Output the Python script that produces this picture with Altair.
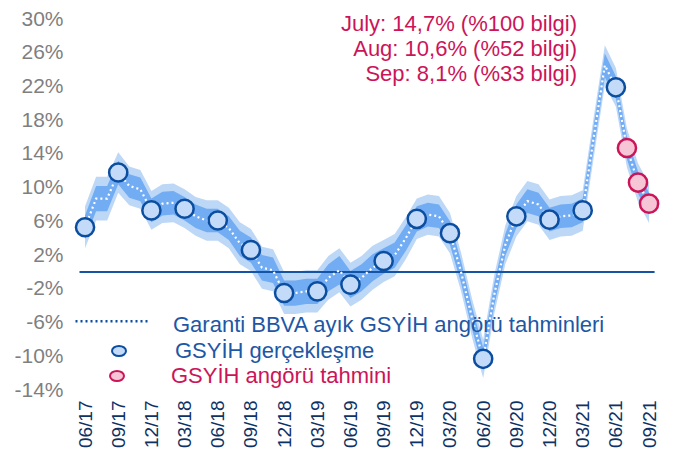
import altair as alt
import pandas as pd

# ---------------- data ----------------
tick_labels = ["06/17", "09/17", "12/17", "03/18", "06/18", "09/18", "12/18", "03/19",
               "06/19", "09/19", "12/19", "03/20", "06/20", "09/20", "12/20", "03/21",
               "06/21", "09/21"]

months = []
yy, mm = 2017, 6
while (yy, mm) <= (2021, 9):
    months.append(f"{mm:02d}/{yy % 100:02d}")
    mm += 1
    if mm > 12:
        mm, yy = 1, yy + 1

# monthly nowcast (Garanti BBVA), %
nowcast = [5.3, 8.7, 8.7, 11.8, 10.2, 9.8, 7.3, 8.1, 8.2, 7.5, 6.6, 6.1,
           6.1, 5.2, 3.4, 2.6, 0.5, 0.2, -2.5, -2.5, -2.3, -2.3, -0.7, 0.2,
           -1.5, -0.7, 0.5, 1.3, 2.0, 4.0, 6.3, 6.8, 6.6, 4.6, 0.0, -5.5,
           -10.3, -2.7, 3.2, 6.6, 8.4, 8.0, 6.2, 6.6, 6.7, 7.3, 16.0, 24.5,
           21.9, 14.7, 10.6, 8.1]

# half widths of the inner / outer uncertainty bands, %
inner_half = [1.4, 1.5, 1.5, 1.4, 1.4, 1.4, 1.4, 1.4, 1.4, 1.4, 1.4, 1.4,
              1.4, 1.4, 1.5, 1.5, 1.5, 1.5, 1.5, 1.5, 1.5, 1.5, 1.6, 1.7,
              1.6, 1.6, 1.6, 1.5, 1.5, 1.5, 1.5, 1.4, 1.4, 1.4, 1.3, 1.3,
              1.3, 1.3, 1.3, 1.4, 1.4, 1.4, 1.4, 1.4, 1.4, 1.4, 1.4, 1.4,
              1.3, 1.3, 1.3, 1.3]
outer_half = [2.5, 2.6, 2.6, 2.4, 2.3, 2.3, 2.3, 2.3, 2.3, 2.3, 2.3, 2.4,
              2.4, 2.4, 2.5, 2.5, 2.5, 2.5, 2.5, 2.5, 2.5, 2.5, 2.6, 2.6,
              2.6, 2.6, 2.6, 2.5, 2.5, 2.5, 2.4, 2.4, 2.4, 2.4, 2.3, 2.3,
              2.3, 2.3, 2.3, 2.4, 2.4, 2.4, 2.4, 2.4, 2.4, 2.4, 2.4, 2.4,
              2.3, 2.3, 2.3, 2.3]

# realised quarterly GDP growth, %
realized = [5.3, 11.8, 7.3, 7.5, 6.1, 2.6, -2.5, -2.3, -1.5, 1.3, 6.3, 4.6,
            -10.3, 6.6, 6.2, 7.3, 21.9]
forecast_months = ["07/21", "08/21", "09/21"]
forecast = [14.7, 10.6, 8.1]

annotation = ["July: 14,7% (%100 bilgi)", "Aug: 10,6% (%52 bilgi)", "Sep: 8,1% (%33 bilgi)"]
S1 = "Garanti BBVA ayık GSYİH angörü tahminleri"
S2 = "GSYİH gerçekleşme"
S3 = "GSYİH angörü tahmini"

# ---------------- styles ----------------
FONT = "Liberation Sans"
BLUE = "#0b4d9f"
LEG_BLUE = "#1d57a5"
PINK = "#cc1458"
BLUE_FILL = "#c3dbf8"
PINK_FILL = "#f6c6d6"
INNER = "#72acf3"
OUTER = "#bdd7f7"

# ---------------- frames ----------------
monthly = pd.DataFrame({
    "month": months,
    "idx": list(range(len(months))),
    "v": nowcast,
    "lo1": [a - b for a, b in zip(nowcast, inner_half)],
    "hi1": [a + b for a, b in zip(nowcast, inner_half)],
    "lo2": [a - b for a, b in zip(nowcast, outer_half)],
    "hi2": [a + b for a, b in zip(nowcast, outer_half)],
    "series": [S1] * len(months),
})

real_df = pd.DataFrame({
    "idx": [months.index(m) for m in tick_labels[:len(realized)]],
    "v": realized,
    "series": [S2] * len(realized),
})
fc_df = pd.DataFrame({
    "idx": [months.index(m) for m in forecast_months],
    "v": forecast,
    "series": [S3] * len(forecast),
})

zero_df = pd.DataFrame({"a": [-0.5], "b": [len(months) - 0.5], "v": [0]})

month_js = "[" + ",".join(f"'{m}'" for m in months) + "]"
x_axis = alt.Axis(values=[months.index(t) for t in tick_labels],
                  labelExpr=f"{month_js}[datum.value]", title=None,
                  labelAngle=-90, labelAlign="right", labelBaseline="middle",
                  labelPadding=10, labelFontSize=19, labelColor="#0e3264",
                  labelFont=FONT, ticks=False, domain=False, grid=False,
                  labelOverlap=False)
y_axis = alt.Axis(values=list(range(-14, 31, 4)), labelExpr="datum.value + '%'",
                  title=None, labelPadding=7, labelFontSize=21, labelColor="#7f7f7f",
                  labelFont=FONT, ticks=False, domain=False, grid=False)
xs = alt.Scale(domain=[-1.36, 52.17], nice=False, zero=False)
ys = alt.Scale(domain=[-14, 30], nice=False, zero=False)

X = alt.X("idx:Q", scale=xs, axis=x_axis)

outer = alt.Chart(monthly).mark_area(color=OUTER, opacity=1).encode(
    x=X, y=alt.Y("lo2:Q", scale=ys, axis=y_axis), y2="hi2:Q")
inner = alt.Chart(monthly).mark_area(color=INNER, opacity=1).encode(
    x=X, y=alt.Y("lo1:Q", scale=ys, axis=y_axis), y2="hi1:Q")
zero = alt.Chart(zero_df).mark_rule(color="#1554a5", strokeWidth=2).encode(
    x=alt.X("a:Q", scale=xs, axis=x_axis), x2="b:Q",
    y=alt.Y("v:Q", scale=ys, axis=y_axis))

LINE_PATH = "M-1,-0.1H1"
ELL_PATH = "M-1,0A1,0.72 0 1,0 1,0A1,0.72 0 1,0 -1,0Z"

leg_common = dict(title=None, orient="none", padding=0, labelFontSize=22,
                  labelFont=FONT, labelLimit=700)

line = alt.Chart(monthly).mark_line(color="white", strokeWidth=2.2).encode(
    x=X, y=alt.Y("v:Q", scale=ys, axis=y_axis),
    strokeDash=alt.StrokeDash(
        "series:N", scale=alt.Scale(domain=[S1], range=[[2, 3]]),
        legend=alt.Legend(legendX=4, legendY=267, symbolType=LINE_PATH,
                          symbolSize=5625, symbolStrokeColor=BLUE,
                          symbolStrokeWidth=2.6, symbolDash=[2, 2],
                          labelOffset=21, labelColor=LEG_BLUE, **leg_common)))

real_pts = alt.Chart(real_df).mark_point(shape="circle", filled=True, size=330,
                                         stroke=BLUE, strokeWidth=2.5, opacity=1).encode(
    x=X, y=alt.Y("v:Q", scale=ys, axis=y_axis),
    fill=alt.Fill("series:N", scale=alt.Scale(domain=[S2], range=[BLUE_FILL]),
                  legend=alt.Legend(legendX=38, legendY=321, symbolType=ELL_PATH,
                                    symbolSize=196, symbolStrokeColor=BLUE,
                                    symbolFillColor="#e6f0fb", symbolStrokeWidth=2,
                                    symbolOpacity=1,
                                    labelOffset=45, labelColor=LEG_BLUE, **leg_common)))

fc_pts = alt.Chart(fc_df).mark_point(shape="circle", filled=True, size=330,
                                     fill=PINK_FILL, strokeWidth=2.5, opacity=1).encode(
    x=X, y=alt.Y("v:Q", scale=ys, axis=y_axis),
    stroke=alt.Stroke("series:N", scale=alt.Scale(domain=[S3], range=[PINK]),
                      legend=alt.Legend(legendX=36, legendY=346, symbolType=ELL_PATH,
                                        symbolSize=196, symbolFillColor=PINK_FILL,
                                        symbolStrokeWidth=2, symbolOpacity=1,
                                        labelOffset=43, labelColor=PINK, **leg_common)))

title = alt.TitleParams(text=annotation, anchor="end", frame="group", align="right",
                        baseline="top", fontSize=22, lineHeight=25, color=PINK,
                        font=FONT, fontWeight="normal", offset=-78, dx=-85)

chart = alt.layer(outer, inner, zero, line, real_pts, fc_pts).properties(
    width=592, height=371, title=title,
    padding={"left": 62, "top": 11, "right": 5, "bottom": 65},
    autosize=alt.AutoSizeParams(type="none"),
).configure_view(stroke=None)

chart.save("out.html", embed_options={"renderer": "svg", "actions": False})
